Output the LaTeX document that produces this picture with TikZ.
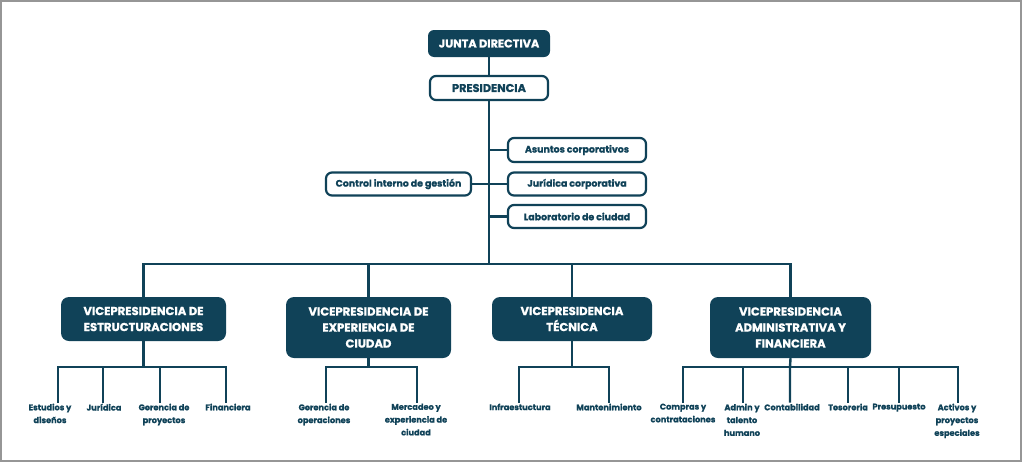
\documentclass[tikz,border=0pt]{standalone}
\usepackage{fontspec}
\setmainfont{Poppins}[BoldFeatures={FakeBold=1}]
\definecolor{dark}{RGB}{16,66,88}
\definecolor{frame}{RGB}{150,150,150}
\begin{document}
\begin{tikzpicture}[x=1pt,y=-1pt,
  conn/.style={draw=dark,line width=2.4pt},
  darkbox/.style={fill=dark,text=white,rounded corners=6pt,inner sep=0pt,align=center,
    font=\bfseries\fontsize{11.3}{13}\selectfont},
  whitebox/.style={draw=dark,fill=white,line width=2.2pt,rounded corners=6pt,text=dark,inner sep=0pt,align=center,
    font=\bfseries\fontsize{9.4}{11}\selectfont},
  vpbox/.style={fill=dark,text=white,rounded corners=8pt,inner sep=0pt,align=center,
    font=\bfseries\fontsize{11.6}{16}\selectfont},
  leaf/.style={text=dark,align=center,anchor=north,inner sep=1pt,
    font=\bfseries\fontsize{8.2}{12.8}\selectfont}]
\useasboundingbox (0,0) rectangle (1024,469);
\draw[frame,line width=2pt] (1,1) rectangle (1021,461);

% top
\node[darkbox,minimum width=122pt,minimum height=27pt] (jd) at (489,43.5) {JUNTA DIRECTIVA};
\node[whitebox,minimum width=118pt,minimum height=24pt,font=\bfseries\fontsize{11.3}{13}\selectfont] (pr) at (489,88) {PRESIDENCIA};
\node[whitebox,minimum width=138pt,minimum height=24pt] (as) at (577,150) {Asuntos corporativos};
\node[whitebox,minimum width=138pt,minimum height=23pt] (ju) at (577,184) {Jurídica corporativa};
\node[whitebox,minimum width=138pt,minimum height=23pt] (la) at (577,216.5) {Laboratorio de ciudad};
\node[whitebox,minimum width=145pt,minimum height=23pt] (ci) at (398.5,184) {Control interno de gestión};

\coordinate (bus) at (489,264);
\draw[conn] (jd.south) -- (pr.north);
\draw[conn] (pr.south) -- (bus);
\draw[conn] (as.west) -- (as.west -| pr.south);
\draw[conn] (la.west) -- (la.west -| pr.south);
\draw[conn] (ci.east) -- (ju.west);

% vice-presidencies
\node[vpbox,minimum width=165pt,minimum height=44pt] (vp1) at (143.5,319) {VICEPRESIDENCIA DE\\ESTRUCTURACIONES};
\node[vpbox,minimum width=165pt,minimum height=61pt] (vp2) at (368.5,327.5) {VICEPRESIDENCIA DE\\EXPERIENCIA DE\\CIUDAD};
\node[vpbox,minimum width=160pt,minimum height=44pt] (vp3) at (572,319) {VICEPRESIDENCIA\\TÉCNICA};
\node[vpbox,minimum width=161pt,minimum height=61pt] (vp4) at (790.5,327.5) {VICEPRESIDENCIA\\ADMINISTRATIVA Y\\FINANCIERA};

\draw[conn,line cap=rect] (vp1.north) -- (vp1.north |- bus) -- (vp4.north |- bus) -- (vp4.north);
\draw[conn] (vp2.north) -- (vp2.north |- bus);
\draw[conn] (vp3.north) -- (vp3.north |- bus);

% leaves: Estructuraciones
\node[leaf] (l11) at (50,402.5) {Estudios y\\diseños};
\node[leaf] (l12) at (104,402.5) {Jurídica};
\node[leaf] (l13) at (164,402.5) {Gerencia de\\proyectos};
\node[leaf] (l14) at (228,402.5) {Financiera};
\coordinate (a1) at (58,367); \coordinate (a2) at (103,367);
\coordinate (a3) at (160,367); \coordinate (a4) at (226,367);
\draw[conn] (vp1.south) -- (vp1.south |- a1);
\draw[conn,line join=miter] (a1 |- l11.north) -- (a1) -- (a4) -- (a4 |- l14.north);
\draw[conn] (a2) -- (a2 |- l12.north);
\draw[conn] (a3) -- (a3 |- l13.north);

% leaves: Experiencia
\node[leaf] (l21) at (324,402.5) {Gerencia de\\operaciones};
\node[leaf] (l22) at (416,402.5) {Mercadeo y\\experiencia de\\ciudad};
\coordinate (b1) at (326,367); \coordinate (b2) at (417,367);
\draw[conn] (vp2.south) -- (vp2.south |- b1);
\draw[conn,line join=miter] (b1 |- l21.north) -- (b1) -- (b2) -- (b2 |- l22.north);

% leaves: Tecnica
\node[leaf] (l31) at (520,402.5) {Infraestuctura};
\node[leaf] (l32) at (609,402.5) {Mantenimiento};
\coordinate (c1) at (519,367); \coordinate (c2) at (609,367);
\draw[conn] (vp3.south) -- (vp3.south |- c1);
\draw[conn,line join=miter] (c1 |- l31.north) -- (c1) -- (c2) -- (c2 |- l32.north);

% leaves: Administrativa
\node[leaf] (l41) at (683,402.5) {Compras y\\contrataciones};
\node[leaf] (l42) at (742,402.5) {Admin y\\talento\\humano};
\node[leaf] (l43) at (792,402.5) {Contabilidad};
\node[leaf] (l44) at (848,402.5) {Tesoreria};
\node[leaf] (l45) at (899,402.5) {Presupuesto};
\node[leaf] (l46) at (957,402.5) {Activos y\\proyectos\\especiales};
\coordinate (d1) at (683,367); \coordinate (d2) at (743,367); \coordinate (d3) at (790,367);
\coordinate (d4) at (848,367); \coordinate (d5) at (899,367); \coordinate (d6) at (958,367);
\draw[conn] (vp4.south) -- (d3) -- (d3 |- l43.north);
\draw[conn,line join=miter] (d1 |- l41.north) -- (d1) -- (d6) -- (d6 |- l46.north);
\draw[conn] (d2) -- (d2 |- l42.north);
\draw[conn] (d4) -- (d4 |- l44.north);
\draw[conn] (d5) -- (d5 |- l45.north);
\end{tikzpicture}
\end{document}
